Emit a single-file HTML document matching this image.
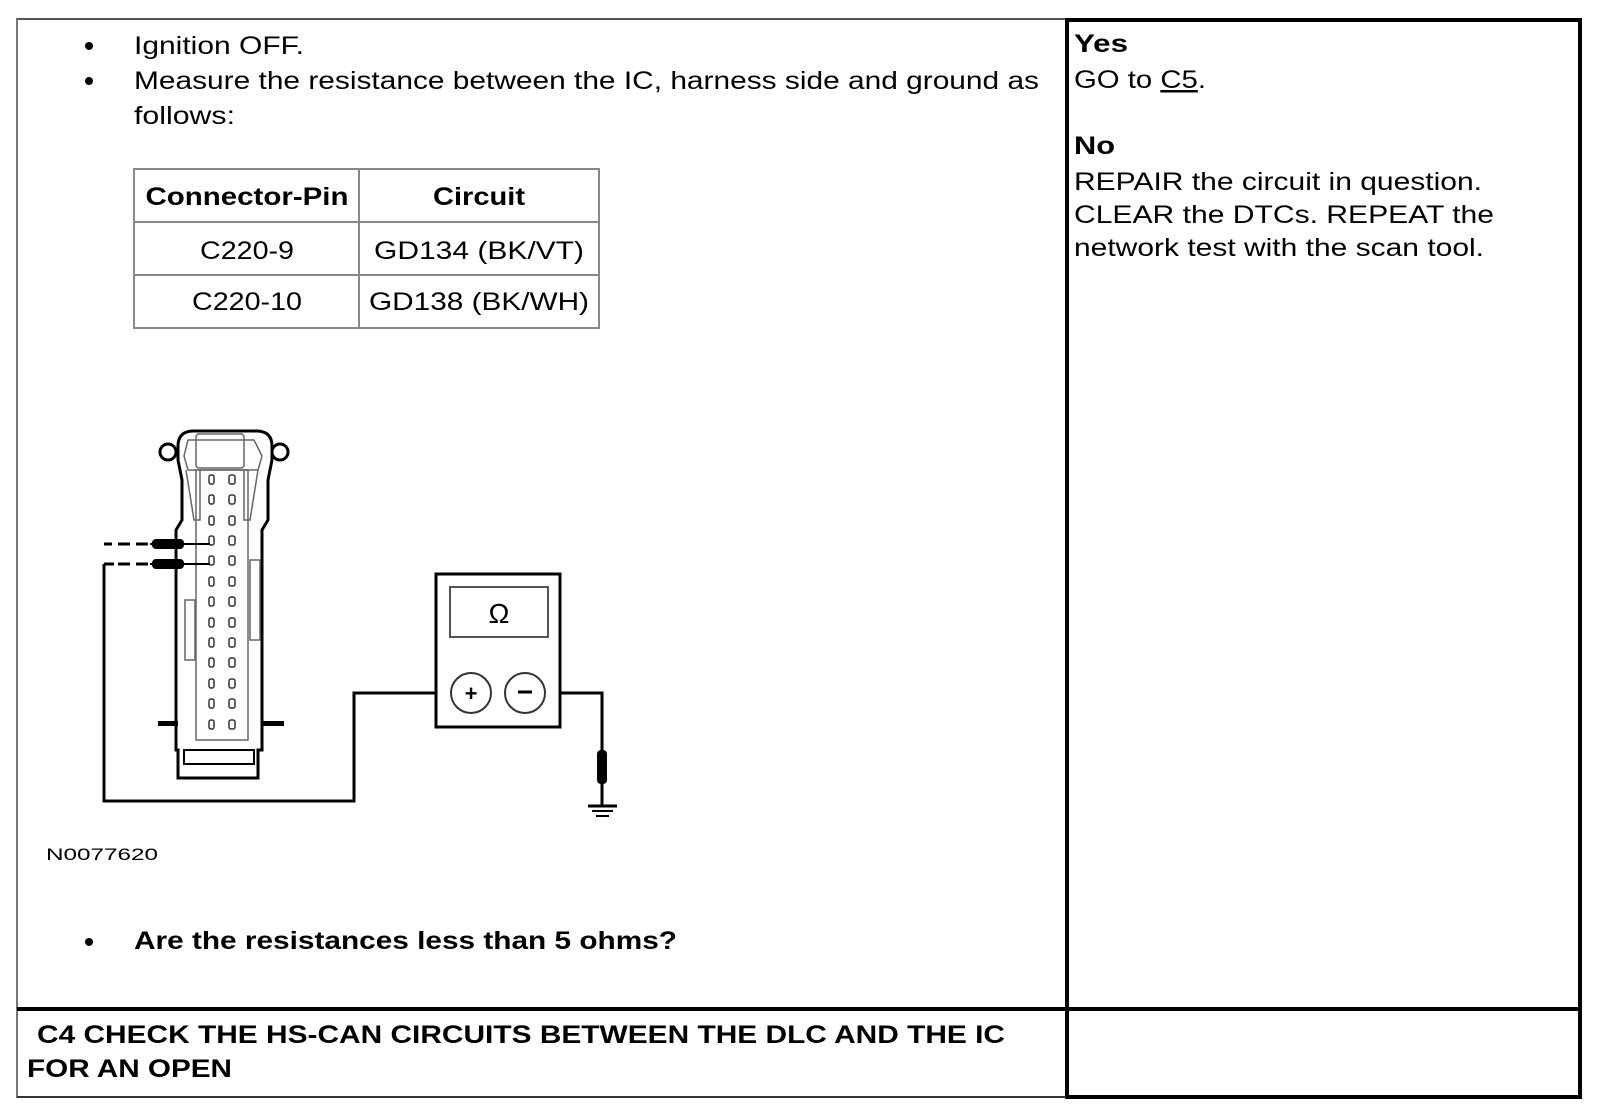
<!DOCTYPE html>
<html><head><meta charset="utf-8"><style>
html,body{margin:0;padding:0;background:#fff;}
svg{display:block;}
text{font-family:"Liberation Sans",Arial,sans-serif;fill:#000;}
</style></head><body>
<svg width="1600" height="1112" viewBox="0 0 1600 1112" xmlns="http://www.w3.org/2000/svg">
<!-- frame -->
<rect x="17" y="19" width="1049" height="1078" fill="none" stroke="#777" stroke-width="2"/>
<line x1="17" y1="19" x2="1580" y2="19" stroke="#555" stroke-width="2"/>
<rect x="1067" y="20" width="513" height="1077" fill="none" stroke="#000" stroke-width="4"/>
<line x1="17" y1="1009" x2="1580" y2="1009" stroke="#000" stroke-width="4"/>
<line x1="17" y1="1097" x2="1066" y2="1097" stroke="#333" stroke-width="2"/>

<!-- left text -->
<g font-size="25">
<circle cx="89" cy="46" r="4"/>
<text x="134" y="54" textLength="170" lengthAdjust="spacingAndGlyphs">Ignition OFF.</text>
<circle cx="89" cy="81" r="4"/>
<text x="134" y="89" textLength="905" lengthAdjust="spacingAndGlyphs">Measure the resistance between the IC, harness side and ground as</text>
<text x="134" y="124" textLength="101" lengthAdjust="spacingAndGlyphs">follows:</text>
</g>

<!-- table -->
<g fill="none" stroke="#888" stroke-width="2">
<rect x="134" y="169" width="465" height="159"/>
<line x1="134" y1="222" x2="599" y2="222"/>
<line x1="134" y1="275" x2="599" y2="275"/>
<line x1="359" y1="169" x2="359" y2="328"/>
</g>
<g font-size="25" text-anchor="middle">
<text x="247" y="205" font-weight="bold" textLength="203" lengthAdjust="spacingAndGlyphs">Connector-Pin</text>
<text x="479" y="205" font-weight="bold" textLength="92" lengthAdjust="spacingAndGlyphs">Circuit</text>
<text x="247" y="259" textLength="94" lengthAdjust="spacingAndGlyphs">C220-9</text>
<text x="479" y="259" textLength="210" lengthAdjust="spacingAndGlyphs">GD134 (BK/VT)</text>
<text x="247" y="310" textLength="110" lengthAdjust="spacingAndGlyphs">C220-10</text>
<text x="479" y="310" textLength="220" lengthAdjust="spacingAndGlyphs">GD138 (BK/WH)</text>
</g>

<!-- connector drawing -->
<g fill="none" stroke="#000" stroke-width="3">
<path d="M178 446 Q178 432 192 431 L258 431 Q272 432 272 446 L272 460 L268 480 L268 520 L262 530 L262 750 L258 750 L258 778 L178 778 L178 750 L176 750 L176 530 L182 520 L182 480 L178 460 Z"/>
<circle cx="168" cy="452" r="8"/>
<circle cx="280" cy="452" r="8"/>
<rect x="184" y="750" width="70" height="14" stroke-width="2"/>
</g>
<g fill="none" stroke="#666" stroke-width="1.5">
<path d="M188 440 L254 440 L262 456 L258 470 L188 470 L184 456 Z"/>
<rect x="196" y="434" width="48" height="34" rx="3"/>
<path d="M186 470 L194 520 L200 520 L200 470"/>
<path d="M258 470 L250 520 L244 520 L244 470"/>
<rect x="196" y="470" width="52" height="270"/>
<rect x="185" y="600" width="10" height="60"/>
<rect x="250" y="560" width="10" height="80"/>
</g>
<g fill="#fff" stroke="#333" stroke-width="1.5">
<g id="pins">
<rect x="209" y="475" width="5" height="9" rx="2"/><rect x="229" y="475" width="6" height="9" rx="2"/>
<rect x="209" y="495" width="5" height="9" rx="2"/><rect x="229" y="495" width="6" height="9" rx="2"/>
<rect x="209" y="516" width="5" height="9" rx="2"/><rect x="229" y="516" width="6" height="9" rx="2"/>
<rect x="209" y="536" width="5" height="9" rx="2"/><rect x="229" y="536" width="6" height="9" rx="2"/>
<rect x="209" y="556" width="5" height="9" rx="2"/><rect x="229" y="556" width="6" height="9" rx="2"/>
<rect x="209" y="577" width="5" height="9" rx="2"/><rect x="229" y="577" width="6" height="9" rx="2"/>
<rect x="209" y="597" width="5" height="9" rx="2"/><rect x="229" y="597" width="6" height="9" rx="2"/>
<rect x="209" y="618" width="5" height="9" rx="2"/><rect x="229" y="618" width="6" height="9" rx="2"/>
<rect x="209" y="638" width="5" height="9" rx="2"/><rect x="229" y="638" width="6" height="9" rx="2"/>
<rect x="209" y="658" width="5" height="9" rx="2"/><rect x="229" y="658" width="6" height="9" rx="2"/>
<rect x="209" y="679" width="5" height="9" rx="2"/><rect x="229" y="679" width="6" height="9" rx="2"/>
<rect x="209" y="699" width="5" height="9" rx="2"/><rect x="229" y="699" width="6" height="9" rx="2"/>
<rect x="209" y="720" width="5" height="9" rx="2"/><rect x="229" y="720" width="6" height="9" rx="2"/>
</g>
</g>
<!-- side pins -->
<rect x="158" y="721" width="20" height="5" fill="#000"/>
<rect x="262" y="721" width="22" height="5" fill="#000"/>
<!-- probes -->
<g stroke="#000" stroke-width="3">
<line x1="104" y1="544" x2="114" y2="544" stroke-dasharray="8 10"/>
<line x1="118" y1="544" x2="150" y2="544" stroke-dasharray="12 6"/>
<line x1="104" y1="564" x2="114" y2="564"/>
<line x1="118" y1="564" x2="150" y2="564" stroke-dasharray="12 6"/>
<line x1="150" y1="544" x2="210" y2="544" stroke-width="2"/>
<line x1="150" y1="564" x2="210" y2="564" stroke-width="2"/>
</g>
<rect x="152" y="539" width="32" height="10" rx="4" fill="#000"/>
<rect x="152" y="559" width="32" height="10" rx="4" fill="#000"/>
<!-- wires -->
<polyline points="104,564 104,801 354,801 354,693 436,693" fill="none" stroke="#000" stroke-width="3"/>
<polyline points="546,693 602,693 602,752" fill="none" stroke="#000" stroke-width="3"/>
<rect x="597" y="750" width="10" height="34" rx="4" fill="#000"/>
<line x1="602" y1="784" x2="602" y2="806" stroke="#000" stroke-width="3"/>
<line x1="588" y1="806" x2="617" y2="806" stroke="#000" stroke-width="3"/>
<line x1="592" y1="811" x2="613" y2="811" stroke="#000" stroke-width="2"/>
<line x1="596" y1="816" x2="609" y2="816" stroke="#000" stroke-width="2"/>
<!-- meter -->
<rect x="436" y="574" width="124" height="153" fill="#fff" stroke="#000" stroke-width="3"/>
<rect x="450" y="587" width="98" height="50" fill="none" stroke="#555" stroke-width="2"/>
<text x="499" y="623" font-size="28" text-anchor="middle" font-family="DejaVu Serif,serif">Ω</text>
<circle cx="471" cy="693" r="20" fill="#fff" stroke="#333" stroke-width="2"/>
<circle cx="525" cy="693" r="20" fill="#fff" stroke="#333" stroke-width="2"/>
<text x="471" y="701" font-size="22" text-anchor="middle" font-weight="bold">+</text>
<line x1="518" y1="692" x2="532" y2="692" stroke="#000" stroke-width="3"/>

<text x="46" y="860" font-size="17" textLength="112" lengthAdjust="spacingAndGlyphs">N0077620</text>

<circle cx="89" cy="942" r="4"/>
<text x="134" y="949" font-size="25" font-weight="bold" textLength="543" lengthAdjust="spacingAndGlyphs">Are the resistances less than 5 ohms?</text>

<g font-size="25" font-weight="bold">
<text x="37" y="1043" textLength="968" lengthAdjust="spacingAndGlyphs">C4 CHECK THE HS-CAN CIRCUITS BETWEEN THE DLC AND THE IC</text>
<text x="27" y="1077" textLength="205" lengthAdjust="spacingAndGlyphs">FOR AN OPEN</text>
</g>

<!-- right column -->
<g font-size="25">
<text x="1074" y="52" font-weight="bold" textLength="54" lengthAdjust="spacingAndGlyphs">Yes</text>
<text x="1074" y="88" textLength="132" lengthAdjust="spacingAndGlyphs">GO to <tspan text-decoration="underline">C5</tspan>.</text>
<text x="1074" y="154" font-weight="bold" textLength="41" lengthAdjust="spacingAndGlyphs">No</text>
<text x="1074" y="190" textLength="408" lengthAdjust="spacingAndGlyphs">REPAIR the circuit in question.</text>
<text x="1074" y="223" textLength="420" lengthAdjust="spacingAndGlyphs">CLEAR the DTCs. REPEAT the</text>
<text x="1074" y="256" textLength="410" lengthAdjust="spacingAndGlyphs">network test with the scan tool.</text>
</g>
</svg>
</body></html>
